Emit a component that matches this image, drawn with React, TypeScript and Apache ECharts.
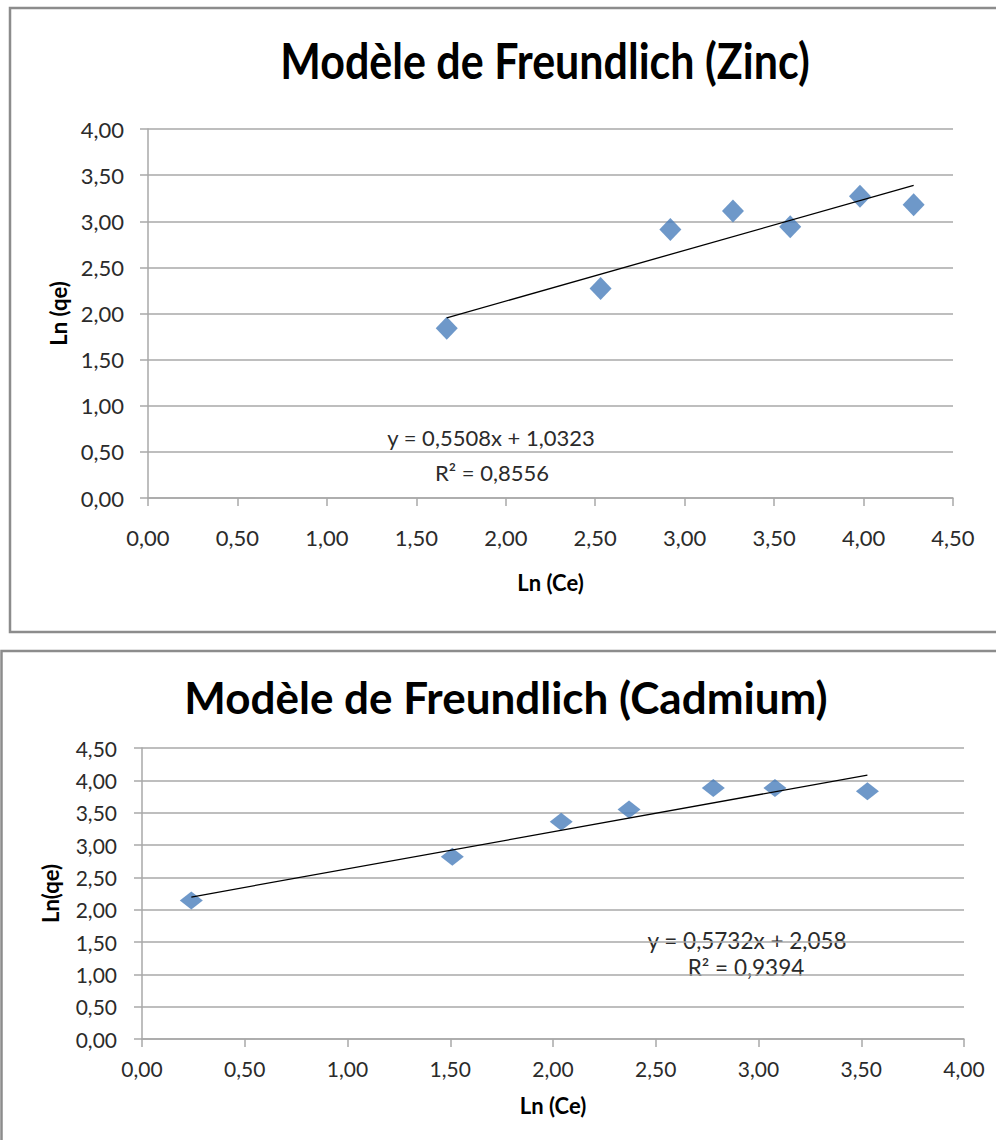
import React, { useEffect, useRef } from "react";
import * as echarts from "echarts";

// ---- Data ----
const zincLnCe = [1.67, 2.53, 2.92, 3.27, 3.59, 3.98, 4.28];
const zincLnQe = [1.84, 2.27, 2.91, 3.11, 2.94, 3.27, 3.18];
const zincFit = { slope: 0.5508, intercept: 1.0323, r2: 0.8556 };

const cadLnCe = [0.24, 1.51, 2.04, 2.37, 2.78, 3.08, 3.53];
const cadLnQe = [2.14, 2.82, 3.36, 3.55, 3.88, 3.88, 3.83];
const cadFit = { slope: 0.5732, intercept: 2.058, r2: 0.9394 };

const titles = ["Modèle de Freundlich (Zinc)", "Modèle de Freundlich (Cadmium)"];
const xNames = ["Ln (Ce)", "Ln (Ce)"];
const yNames = ["Ln (qe)", "Ln(qe)"];

const fmt = (v: number, d = 2) => v.toFixed(d).replace(".", ",");
const fitLine = (xs: number[], f: { slope: number; intercept: number }) => {
  const lo = Math.min(...xs);
  const hi = Math.max(...xs);
  return [
    [lo, f.slope * lo + f.intercept],
    [hi, f.slope * hi + f.intercept],
  ];
};
const eqText = (f: { slope: number; intercept: number }, dIntercept: number) =>
  `y = ${fmt(f.slope, 4)}x + ${fmt(f.intercept, dIntercept)}`;

const FONT = "Lato, 'Noto Sans', sans-serif";
const TXT = "#2b2b2b";
const GRID = "#a8a8a8";
const BLUE = "#4a7ebb";

export default function App() {
  const ref = useRef<HTMLDivElement>(null);
  useEffect(() => {
    if (!ref.current) return;
    const chart = echarts.init(ref.current, null, { renderer: "svg" });
    const axisCommon = (fs: number) => ({
      axisLine: { show: true, lineStyle: { color: GRID, width: 1.5 } },
      axisTick: { show: true, inside: false, length: 8, lineStyle: { color: GRID, width: 1.5 } },
      splitLine: { show: false },
      axisLabel: { color: TXT, fontSize: fs, fontFamily: FONT, formatter: (v: number) => fmt(v) },
      nameTextStyle: { color: "#000", fontSize: 22, fontWeight: "bold", fontFamily: FONT },
    });
    chart.setOption({
      animation: false,
      backgroundColor: "#ffffff",
      grid: [
        { left: 148, top: 129, width: 805, height: 369 },
        { left: 142, top: 748, width: 822, height: 291 },
      ],
      xAxis: [
        {
          ...axisCommon(22),
          type: "value",
          gridIndex: 0,
          min: 0,
          max: 4.5,
          interval: 0.5,
          name: xNames[0],
          nameLocation: "middle",
          nameGap: 73,
          axisLabel: { ...axisCommon(22).axisLabel, margin: 28 },
        },
        {
          ...axisCommon(21),
          type: "value",
          gridIndex: 1,
          min: 0,
          max: 4,
          interval: 0.5,
          name: xNames[1],
          nameLocation: "middle",
          nameGap: 55,
          axisLabel: { ...axisCommon(21).axisLabel, margin: 19 },
        },
      ],
      yAxis: [
        {
          ...axisCommon(22),
          type: "value",
          gridIndex: 0,
          min: 0,
          max: 4,
          interval: 0.5,
          name: yNames[0],
          nameLocation: "middle",
          nameGap: 77,
          splitLine: { show: true, lineStyle: { color: GRID, width: 1.5 } },
          axisLabel: { ...axisCommon(22).axisLabel, margin: 24 },
        },
        {
          ...axisCommon(21),
          type: "value",
          gridIndex: 1,
          min: 0,
          max: 4.5,
          interval: 0.5,
          name: yNames[1],
          nameLocation: "middle",
          nameGap: 81,
          splitLine: { show: true, lineStyle: { color: GRID, width: 1.5 } },
          axisLabel: { ...axisCommon(21).axisLabel, margin: 25 },
        },
      ],
      series: [
        {
          type: "line",
          xAxisIndex: 0,
          yAxisIndex: 0,
          data: fitLine(zincLnCe, zincFit),
          showSymbol: false,
          symbol: "none",
          lineStyle: { color: "#000", width: 1.3 },
          z: 3,
        },
        {
          type: "scatter",
          xAxisIndex: 0,
          yAxisIndex: 0,
          data: zincLnCe.map((x, i) => [x, zincLnQe[i]]),
          symbol: "diamond",
          symbolSize: [22, 23],
          itemStyle: { color: BLUE },
          z: 2,
        },
        {
          type: "line",
          xAxisIndex: 1,
          yAxisIndex: 1,
          data: fitLine(cadLnCe, cadFit),
          showSymbol: false,
          symbol: "none",
          lineStyle: { color: "#000", width: 1.3 },
          z: 3,
        },
        {
          type: "scatter",
          xAxisIndex: 1,
          yAxisIndex: 1,
          data: cadLnCe.map((x, i) => [x, cadLnQe[i]]),
          symbol: "diamond",
          symbolSize: [23, 18],
          itemStyle: { color: BLUE },
          z: 2,
        },
      ],
      graphic: [
        {
          type: "rect",
          shape: { x: 10, y: 8, width: 1000, height: 624 },
          style: { fill: "none", stroke: "#8c8c8c", lineWidth: 2.5 },
          z: -1,
          silent: true,
        },
        {
          type: "rect",
          shape: { x: 1.5, y: 651, width: 1000, height: 500 },
          style: { fill: "none", stroke: "#8c8c8c", lineWidth: 2.5 },
          z: -1,
          silent: true,
        },
        {
          type: "text",
          x: 545,
          y: 60,
          scaleY: 1.15,
          style: {
            text: titles[0],
            font: `bold 43px ${FONT}`,
            fill: "#000",
            textAlign: "center",
            textVerticalAlign: "middle",
          },
        },
        {
          type: "text",
          x: 506,
          y: 697,
          style: {
            text: titles[1],
            font: `bold 44px ${FONT}`,
            fill: "#000",
            textAlign: "center",
            textVerticalAlign: "middle",
          },
        },
        {
          type: "text",
          x: 491,
          y: 437,
          style: { text: eqText(zincFit, 4), font: `22px ${FONT}`, fill: TXT, textAlign: "center", textVerticalAlign: "middle" },
        },
        {
          type: "text",
          x: 492,
          y: 472,
          style: { text: `R² = ${fmt(zincFit.r2, 4)}`, font: `22px ${FONT}`, fill: TXT, textAlign: "center", textVerticalAlign: "middle" },
        },
        {
          type: "text",
          x: 747,
          y: 940,
          style: { text: eqText(cadFit, 3), font: `22.5px ${FONT}`, fill: TXT, textAlign: "center", textVerticalAlign: "middle" },
        },
        {
          type: "text",
          x: 746,
          y: 967,
          style: { text: `R² = ${fmt(cadFit.r2, 4)}`, font: `22.5px ${FONT}`, fill: TXT, textAlign: "center", textVerticalAlign: "middle" },
        },
      ],
    });
    return () => chart.dispose();
  }, []);
  return (
    <div
      ref={ref}
      style={{ position: "fixed", left: 0, top: 0, width: 996, height: 1140, background: "#fff" }}
    />
  );
}
